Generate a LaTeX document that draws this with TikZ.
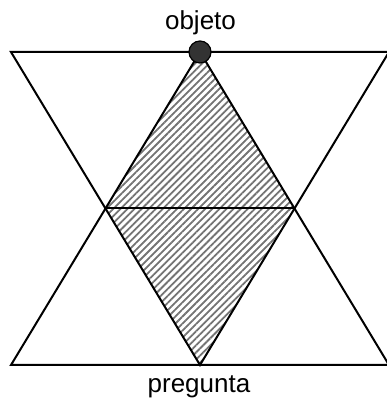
\documentclass[tikz,border=0pt]{standalone}
\usepackage{fontspec}
\setmainfont{Liberation Sans}
\usetikzlibrary{patterns.meta}
\begin{document}
\begin{tikzpicture}[x=1pt,y=1pt,
  edge/.style={line width=2pt, line join=miter},
  lbl/.style={font=\fontsize{26}{30}\selectfont, anchor=base, inner sep=0pt},
  hatch/.style={pattern={Lines[angle=45,distance=5pt,line width=1.8pt]}, pattern color=black!55}]
\useasboundingbox (0,0) rectangle (387,400);
\coordinate (TL) at (11,348);
\coordinate (TR) at (389,348);
\coordinate (BL) at (11,35);
\coordinate (BR) at (389,35);
\coordinate (T) at (200,348);
\coordinate (B) at (200,35);
\coordinate (ML) at (105.5,191.5);
\coordinate (MR) at (294.5,191.5);
\fill[hatch] (T) -- (ML) -- (B) -- (MR) -- cycle;
\draw[edge] (TL) -- (TR) -- (B) -- cycle;
\draw[edge] (BL) -- (BR) -- (T) -- cycle;
\draw[edge] (ML) -- (MR);
\node[circle, draw=black, line width=1.2pt, fill=black!80, minimum size=22pt, inner sep=0pt] (dot) at (T) {};
\node[lbl] (obj) at (200.5,370) {objeto};
\node[lbl] (preg) at (199,7) {pregunta};
\end{tikzpicture}
\end{document}
